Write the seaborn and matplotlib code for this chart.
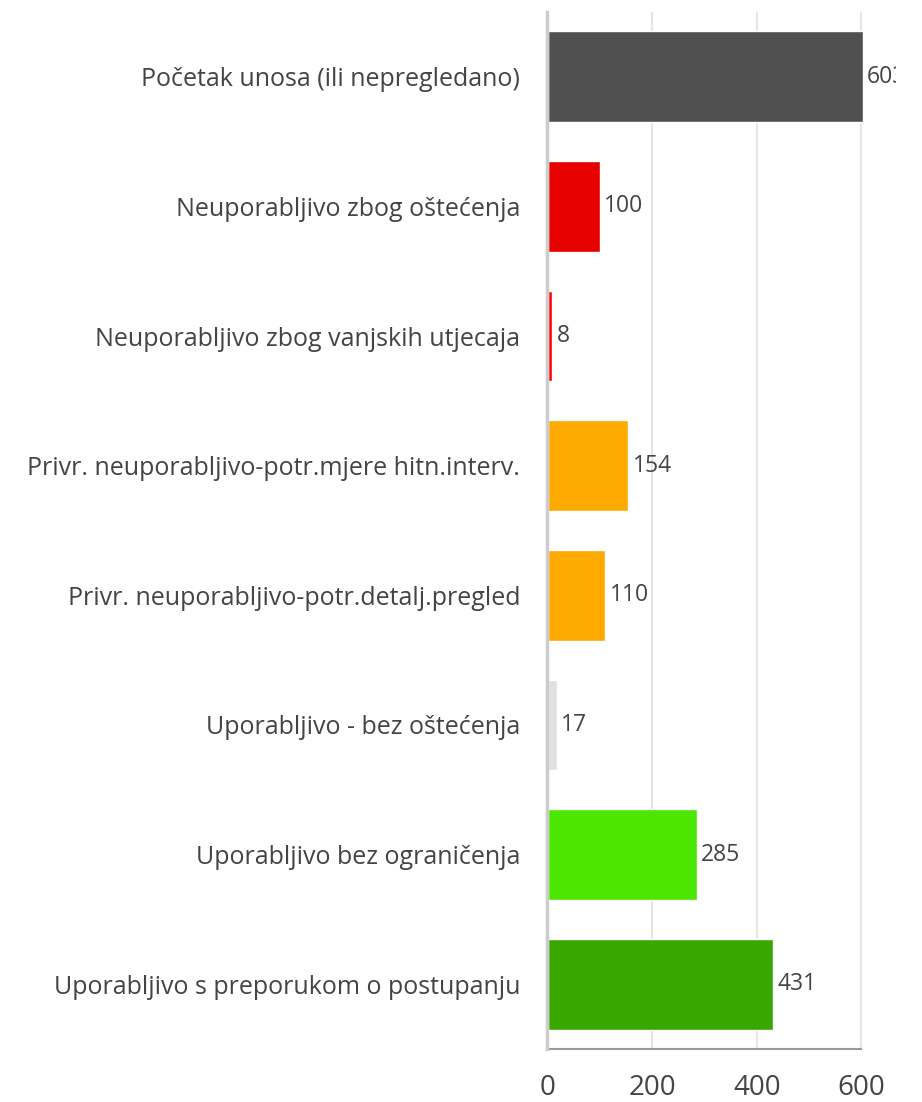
import numpy as np
import pandas as pd
import matplotlib
matplotlib.use('Agg')
import matplotlib.pyplot as plt
import seaborn as sns

categories = [
    'Početak unosa (ili nepregledano)',
    'Neuporabljivo zbog oštećenja',
    'Neuporabljivo zbog vanjskih utjecaja',
    'Privr. neuporabljivo-potr.mjere hitn.interv.',
    'Privr. neuporabljivo-potr.detalj.pregled',
    'Uporabljivo - bez oštećenja',
    'Uporabljivo bez ograničenja',
    'Uporabljivo s preporukom o postupanju',
]
counts = [603, 100, 8, 154, 110, 17, 285, 431]
colors = ['#505050', '#e60000', '#ff0000', '#ffaa00', '#ffaa00',
          '#e1e1e1', '#4ce600', '#38a800']
x_ticks = [0, 200, 400, 600]

df = pd.DataFrame({'status': categories, 'count': counts})

sns.set_style('white')
plt.rcParams['font.family'] = ['Open Sans', 'DejaVu Sans']

fig = plt.figure(figsize=(9.22, 11.02), dpi=100)
ax = fig.add_axes([0.5944, 0.0481, 0.3774, 0.941])

sns.barplot(data=df, x='count', y='status', hue='status', palette=colors,
            orient='h', width=0.7, saturation=1, legend=False, ax=ax, zorder=2)

ax.set_xlim(0, 667)
ax.set_ylim(7.5, -0.5)
ax.set_xticks(x_ticks)
ax.set_xticklabels([str(t) for t in x_ticks], fontsize=20, color='#444444')
ax.tick_params(axis='y', length=0, pad=19, labelsize=18, labelcolor='#444444')
ax.tick_params(axis='x', length=8, width=1.5, color='#999999', pad=10)
ax.set_xlabel('')
ax.set_ylabel('')

# vertical grid lines
ax.grid(axis='x', color='#e6e6e6', linewidth=1.5, zorder=0)
ax.set_axisbelow(True)

for side in ['top', 'right']:
    ax.spines[side].set_visible(False)
ax.spines['left'].set_color('#cccccc')
ax.spines['left'].set_linewidth(2.5)
ax.spines['left'].set_position(('outward', 1))
ax.spines['left'].set_zorder(3)
ax.spines['bottom'].set_color('#999999')
ax.spines['bottom'].set_linewidth(1.5)
ax.spines['bottom'].set_bounds(0, 600)

for cont in ax.containers:
    labels = ax.bar_label(cont, padding=3, fontsize=16.5, color='#444444')
    for t in labels:
        t.set_clip_on(True)
        t.set_clip_box(ax.bbox)

fig.savefig('out.png', dpi=100, facecolor='white')
